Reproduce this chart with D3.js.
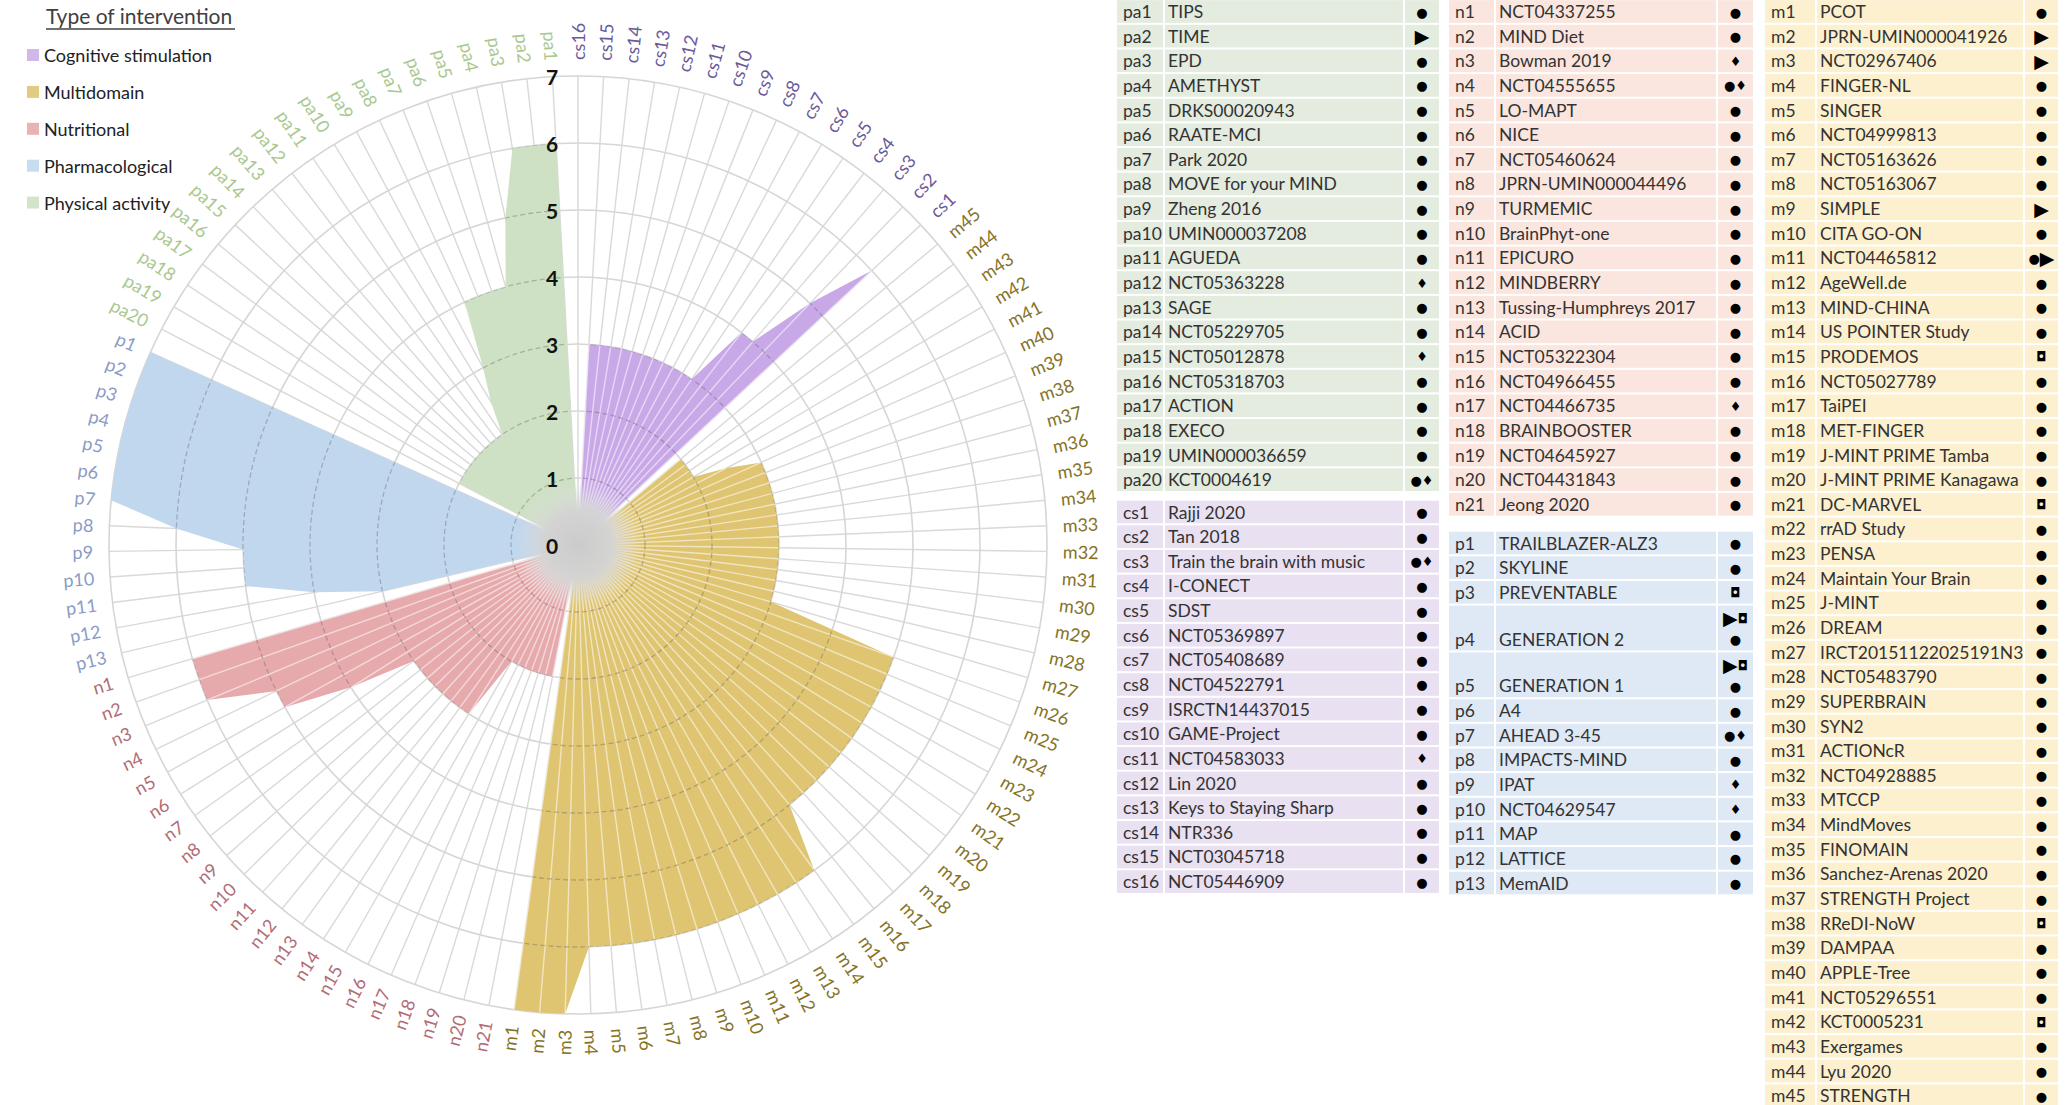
<!DOCTYPE html>
<html><head><meta charset="utf-8">
<script src="https://cdn.jsdelivr.net/npm/d3@7"></script>
<style>html,body{margin:0;padding:0;background:#fff;overflow:hidden} svg{display:block}</style>
</head><body><svg id="c" width="2065" height="1105"></svg>
<script>
// ---------------- DATA ----------------
const legendTitle = "Type of intervention";
const groupNames = ["Cognitive stimulation","Multidomain","Nutritional","Pharmacological","Physical activity"];
const tickLabels = ["0","1","2","3","4","5","6","7"];

const paCodes = ["pa1","pa2","pa3","pa4","pa5","pa6","pa7","pa8","pa9","pa10","pa11","pa12","pa13","pa14","pa15","pa16","pa17","pa18","pa19","pa20"];
const paNames = ["TIPS","TIME","EPD","AMETHYST","DRKS00020943","RAATE-MCI","Park 2020","MOVE for your MIND","Zheng 2016","UMIN000037208","AGUEDA","NCT05363228","SAGE","NCT05229705","NCT05012878","NCT05318703","ACTION","EXECO","UMIN000036659","KCT0004619"];
const paSymbols = ["●","▶","●","●","●","●","●","●","●","●","●","♦","●","●","♦","●","●","●","●","●♦"];
const paValues = [6,6,6,5,4,4,4,4,3,2.5,2,2,2,2,2,2,2,2,2,2];

const csCodes = ["cs1","cs2","cs3","cs4","cs5","cs6","cs7","cs8","cs9","cs10","cs11","cs12","cs13","cs14","cs15","cs16"];
const csNames = ["Rajji 2020","Tan 2018","Train the brain with music","I-CONECT","SDST","NCT05369897","NCT05408689","NCT04522791","ISRCTN14437015","GAME-Project","NCT04583033","Lin 2020","Keys to Staying Sharp","NTR336","NCT03045718","NCT05446909"];
const csSymbols = ["●","●","●♦","●","●","●","●","●","●","●","♦","●","●","●","●","●"];
const csValues = [6,5,4,4,3,3,3,3,3,3,3,3,3,3,3,0];

const nCodes = ["n1","n2","n3","n4","n5","n6","n7","n8","n9","n10","n11","n12","n13","n14","n15","n16","n17","n18","n19","n20","n21"];
const nNames = ["NCT04337255","MIND Diet","Bowman 2019","NCT04555655","LO-MAPT","NICE","NCT05460624","JPRN-UMIN000044496","TURMEMIC","BrainPhyt-one","EPICURO","MINDBERRY","Tussing-Humphreys 2017","ACID","NCT05322304","NCT04966455","NCT04466735","BRAINBOOSTER","NCT04645927","NCT04431843","Jeong 2020"];
const nSymbols = ["●","●","♦","●♦","●","●","●","●","●","●","●","●","●","●","●","●","♦","●","●","●","●"];
const nValues = [6,6,6,5,5,4,3,3,3,3,3,3,3,3,2,2,2,2,2,2,2];

const pCodes = ["p1","p2","p3","p4","p5","p6","p7","p8","p9","p10","p11","p12","p13"];
const pNames = ["TRAILBLAZER-ALZ3","SKYLINE","PREVENTABLE","GENERATION 2","GENERATION 1","A4","AHEAD 3-45","IMPACTS-MIND","IPAT","NCT04629547","MAP","LATTICE","MemAID"];
const pSymbols = ["●","●","◘","▶◘|●","▶◘|●","●","●♦","●","♦","♦","●","●","●"];
const pValues = [7,7,7,7,7,7,7,6,5,5,5,4,3];

const mCodes = ["m1","m2","m3","m4","m5","m6","m7","m8","m9","m10","m11","m12","m13","m14","m15","m16","m17","m18","m19","m20","m21","m22","m23","m24","m25","m26","m27","m28","m29","m30","m31","m32","m33","m34","m35","m36","m37","m38","m39","m40","m41","m42","m43","m44","m45"];
const mNames = ["PCOT","JPRN-UMIN000041926","NCT02967406","FINGER-NL","SINGER","NCT04999813","NCT05163626","NCT05163067","SIMPLE","CITA GO-ON","NCT04465812","AgeWell.de","MIND-CHINA","US POINTER Study","PRODEMOS","NCT05027789","TaiPEI","MET-FINGER","J-MINT PRIME Tamba","J-MINT PRIME Kanagawa","DC-MARVEL","rrAD Study","PENSA","Maintain Your Brain","J-MINT","DREAM","IRCT20151122025191N3","NCT05483790","SUPERBRAIN","SYN2","ACTIONcR","NCT04928885","MTCCP","MindMoves","FINOMAIN","Sanchez-Arenas 2020","STRENGTH Project","RReDI-NoW","DAMPAA","APPLE-Tree","NCT05296551","KCT0005231","Exergames","Lyu 2020","STRENGTH"];
const mSymbols = ["●","▶","▶","●","●","●","●","●","▶","●","●▶","●","●","●","◘","●","●","●","●","●","◘","●","●","●","●","●","●","●","●","●","●","●","●","●","●","●","●","◘","●","●","●","◘","●","●","●"];
const mValues = [7,7,7,6,6,6,6,6,6,6,6,6,6,6,6,5,5,5,5,5,5,5,5,5,5,5,3,3,3,3,3,3,3,3,3,3,3,3,3,3,2.5,2,2,2,2];

// ---------------- STYLE ----------------
const W = 2065, H = 1105;
const cx = 578, cy = 545, R = 469;
const fillColor = {cs:"#c8a8e7", m:"#dfc571", n:"#e6aaad", p:"#c0d7ee", pa:"#cfe1c5"};
const labelColor = {cs:"#6b5a9a", m:"#857328", n:"#b26c74", p:"#8a9cc6", pa:"#a9c88f"};
const legendColor = ["#d2b7ea","#e2ca80","#e8b3b5","#c8dcf0","#d3e4c9"];
const cellColor = {cs:"#e9e0f1", m:"#fcf0cf", n:"#fae6de", p:"#dfe9f5", pa:"#e4ebdf"};
const FONT = "Lato, 'Open Sans', sans-serif";

const svg = d3.select("#c");
svg.append("rect").attr("width",W).attr("height",H).attr("fill","#fff");

// clockwise order starting at 12 o'clock
const order = [];
function pushGroup(key, codes, values){ for(let i=codes.length-1;i>=0;i--) order.push({key, code:codes[i], value:values[i]}); }
pushGroup("cs", csCodes, csValues);
pushGroup("m", mCodes, mValues);
pushGroup("n", nCodes, nValues);
pushGroup("p", pCodes, pValues);
pushGroup("pa", paCodes, paValues);
const N = order.length;
const ang = d3.scaleLinear().domain([0, N]).range([0, 2*Math.PI]);
const r = d3.scaleLinear().domain([0, 7]).range([0, R]);

const g = svg.append("g").attr("transform", `translate(${cx},${cy})`);
const defs = svg.append("defs");

// grid
g.append("g").selectAll("line").data(order).join("line")
  .attr("x1",0).attr("y1",0)
  .attr("x2",(d,i)=>r(7)*Math.sin(ang(i))).attr("y2",(d,i)=>-r(7)*Math.cos(ang(i)))
  .attr("stroke","#d9d9d9").attr("stroke-width",1.4);
g.append("g").selectAll("circle").data(d3.range(1,8)).join("circle")
  .attr("r",d=>r(d)).attr("fill","none").attr("stroke","#d6d6d6").attr("stroke-width",1.6);

// filled radar areas, one per group
const keys = ["pa","p","n","m","cs"];
const radial = d3.lineRadial().angle((d,i)=>ang(i)).radius(d=>r(d)).curve(d3.curveLinearClosed);
const clip = defs.append("clipPath").attr("id","fillclip");
keys.forEach(k=>{
  const vals = order.map(o=> o.key===k ? o.value : 0);
  g.append("path").attr("d", radial(vals)).attr("fill", fillColor[k]).attr("stroke","none");
  clip.append("path").attr("d", radial(vals)).attr("transform",`translate(${cx},${cy})`);
});
// light spokes over some fills
g.append("g").selectAll("line").data(order.map((o,i)=>({o,i})).filter(d=>["cs","m","n"].includes(d.o.key) && d.o.value>0)).join("line")
  .attr("x1",0).attr("y1",0)
  .attr("x2",d=>r(d.o.value)*Math.sin(ang(d.i))).attr("y2",d=>-r(d.o.value)*Math.cos(ang(d.i)))
  .attr("stroke","#ffffff").attr("stroke-opacity",0.55).attr("stroke-width",1.4);
// dashed rings over fills
svg.append("g").attr("clip-path","url(#fillclip)").append("g").attr("transform",`translate(${cx},${cy})`)
  .selectAll("circle").data(d3.range(1,7)).join("circle")
  .attr("r",d=>r(d)).attr("fill","none").attr("stroke","#5a5a5a").attr("stroke-opacity",0.35)
  .attr("stroke-width",1.3).attr("stroke-dasharray","5,3");

// center grey glow
const rg = defs.append("radialGradient").attr("id","cg");
rg.append("stop").attr("offset","0%").attr("stop-color","#cbcbcb").attr("stop-opacity",1);
rg.append("stop").attr("offset","55%").attr("stop-color","#d3d3d3").attr("stop-opacity",0.95);
rg.append("stop").attr("offset","100%").attr("stop-color","#dedede").attr("stop-opacity",0);
g.append("circle").attr("r",62).attr("fill","url(#cg)");

// tick labels
g.append("g").selectAll("text").data(tickLabels).join("text")
  .attr("x",-26).attr("y",(d,i)=>-r(i)).attr("text-anchor","middle").attr("dominant-baseline","central")
  .attr("font-family",FONT).attr("font-weight",700).attr("font-size",21).attr("fill","#111").text(d=>d);

// category labels
const LR = R + 16;
g.append("g").selectAll("text").data(order).join("text")
  .attr("transform",(d,i)=>{
    const a = ang(i), deg = a*180/Math.PI;
    const x = LR*Math.sin(a), y = -LR*Math.cos(a);
    return `translate(${x},${y}) rotate(${deg<180 ? deg-90 : deg+90})`;
  })
  .attr("text-anchor",(d,i)=> ang(i)*180/Math.PI < 180 ? "start" : "end")
  .attr("dominant-baseline","central")
  .attr("font-family",FONT).attr("font-size",18).attr("fill",d=>labelColor[d.key]).text(d=>d.code);

// legend
svg.append("text").attr("x",46).attr("y",24).attr("font-family",FONT).attr("font-size",21)
  .attr("fill","#404040").text(legendTitle);
svg.append("line").attr("x1",46).attr("x2",235).attr("y1",29).attr("y2",29).attr("stroke","#404040").attr("stroke-width",1.3);
const lg = svg.append("g").selectAll("g").data(groupNames).join("g")
  .attr("transform",(d,i)=>`translate(27,${55 + i*36.9})`);
lg.append("rect").attr("x",0).attr("y",-6).attr("width",12).attr("height",12).attr("fill",(d,i)=>legendColor[i]);
lg.append("text").attr("x",17).attr("y",0).attr("dominant-baseline","central").attr("font-family",FONT)
  .attr("font-size",18).attr("fill","#222").text(d=>d);

// tables
const RH = 24.64;
const symSize = {"●":13, "♦":13, "◘":13, "▶":19};
function drawTable(col, yc0, key, codes, names, syms){
  const tg = svg.append("g");
  let y = yc0 - RH/2;
  codes.forEach((c,i)=>{
    const two = syms[i].includes("|");
    const h = two ? RH*1.9 : RH;
    const cells = [[col.x, col.codeW],[col.x+col.codeW+2, col.nameW],[col.x+col.codeW+col.nameW+4, col.symW]];
    cells.forEach(([x,w])=> tg.append("rect").attr("x",x).attr("y",y+1).attr("width",w).attr("height",h-2).attr("fill",cellColor[key]));
    const ty = y + h - RH/2;
    tg.append("text").attr("x",col.x+6).attr("y",ty).attr("dominant-baseline","central").attr("font-family",FONT)
      .attr("font-size",17.5).attr("fill","#333").text(c);
    tg.append("text").attr("x",col.x+col.codeW+5).attr("y",ty).attr("dominant-baseline","central").attr("font-family",FONT)
      .attr("font-size",17.5).attr("fill","#333").text(names[i]);
    const sx = col.x+col.codeW+col.nameW+4+col.symW/2;
    const parts = syms[i].split("|");
    parts.forEach((s,j)=>{
      const sy = two ? (j===0 ? y + RH/2 + 1 : ty) : ty;
      const t = tg.append("text").attr("x",sx).attr("y",sy).attr("text-anchor","middle").attr("dominant-baseline","central")
        .attr("font-family","'DejaVu Sans', sans-serif").attr("fill","#000");
      Array.from(s).forEach(ch=> t.append("tspan").attr("font-size",symSize[ch]||13).text(ch));
    });
    y += h;
  });
}
const colA = {x:1117, codeW:46, nameW:238, symW:34};
const colB = {x:1449, codeW:45, nameW:220, symW:35};
const colC = {x:1765, codeW:50, nameW:206, symW:33};
const top0 = 11.5;
drawTable(colA, top0, "pa", paCodes, paNames, paSymbols);
drawTable(colA, 512, "cs", csCodes, csNames, csSymbols);
drawTable(colB, top0, "n", nCodes, nNames, nSymbols);
drawTable(colB, 543, "p", pCodes, pNames, pSymbols);
drawTable(colC, top0, "m", mCodes, mNames, mSymbols);
</script></body></html>
